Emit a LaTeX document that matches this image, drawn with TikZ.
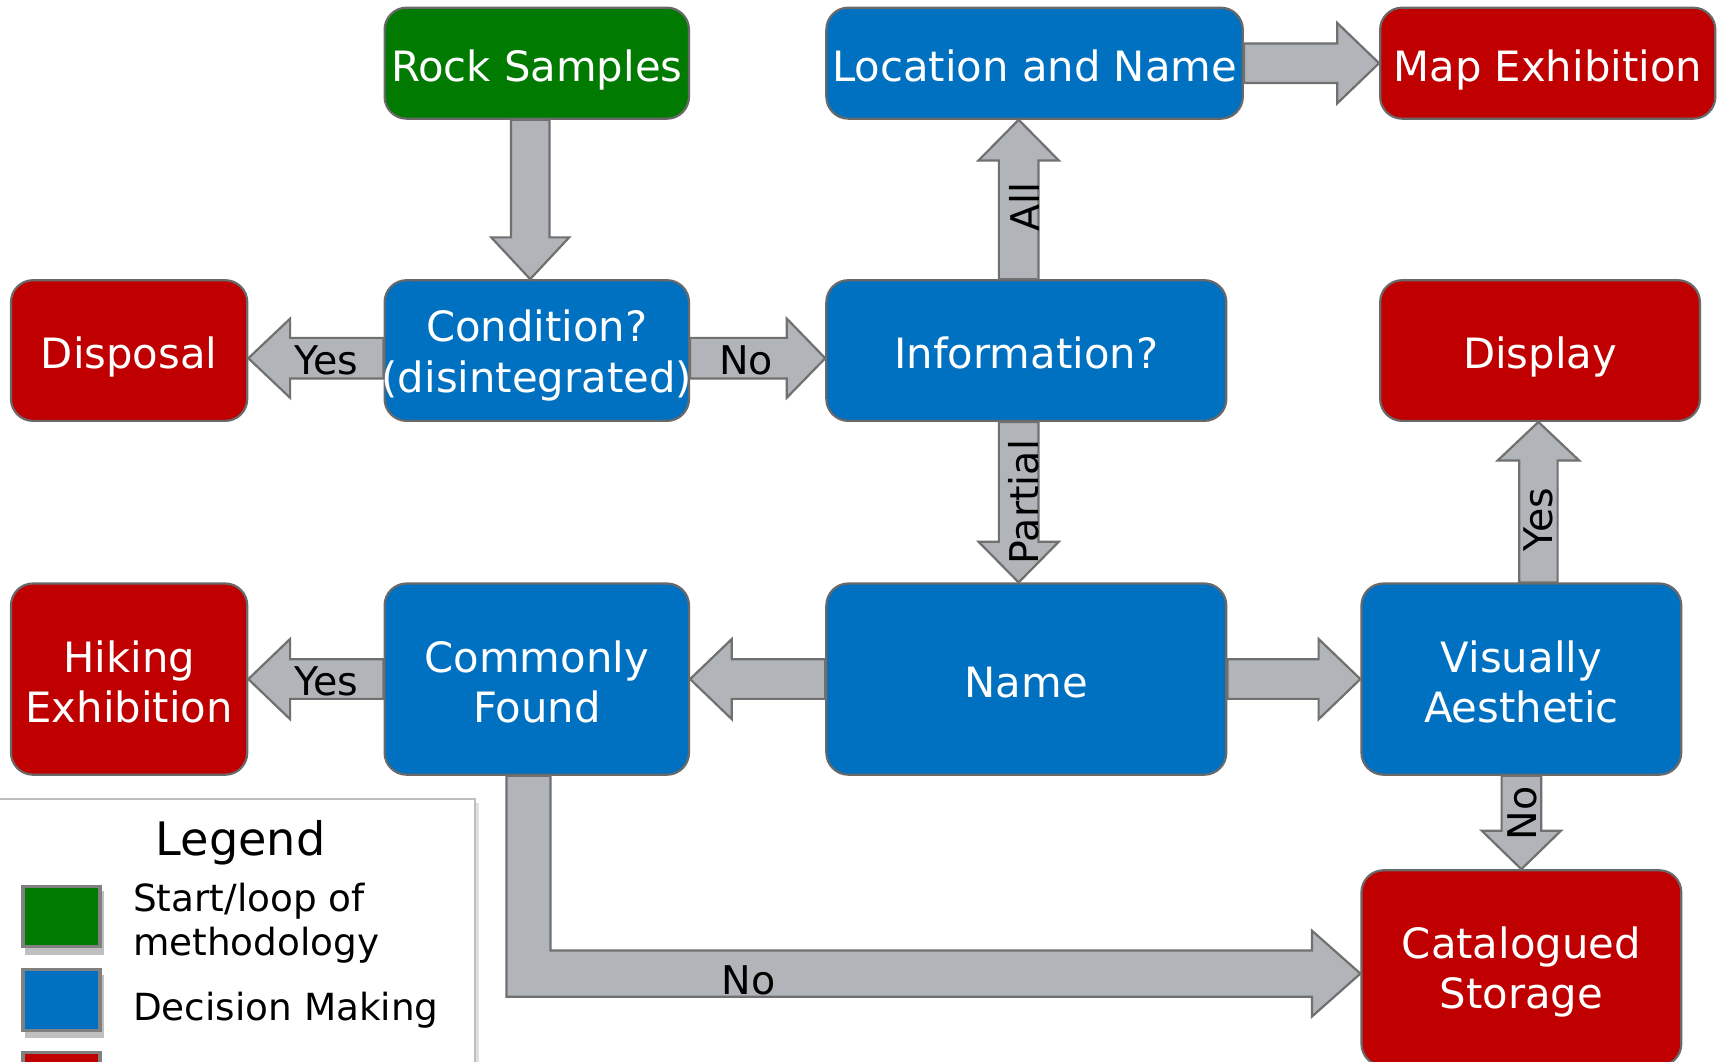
\documentclass[tikz,border=0pt]{standalone}
\usepackage{fontspec}
\setmainfont{DejaVu Sans}
\usetikzlibrary{calc}
\definecolor{cgreen}{RGB}{0,122,0}
\definecolor{cblue}{RGB}{0,112,192}
\definecolor{cred}{RGB}{192,0,0}
\definecolor{afill}{RGB}{177,181,185}
\definecolor{aline}{RGB}{112,112,112}
\definecolor{bline}{RGB}{105,105,105}
\definecolor{legline}{RGB}{190,190,190}
\tikzset{
  box/.style={draw=bline, line width=2pt, rounded corners=20pt, text=white, align=center,
    inner sep=0pt, font=\fontsize{38}{46}\selectfont},
  oneline/.style={text height=42pt, text depth=9pt},
  gbox/.style={box, fill=cgreen},
  bbox/.style={box, fill=cblue},
  rbox/.style={box, fill=cred},
  blockarr/.style={fill=afill, draw=aline, line width=2pt, line join=miter},
  elabel/.style={font=\fontsize{36}{40}\selectfont, text=black, inner sep=0pt},
  legsq/.style={draw=gray, line width=3pt, minimum width=70pt, minimum height=55pt, inner sep=0pt},
  legtext/.style={anchor=west, align=left, inner sep=0pt, font=\fontsize{34}{40}\selectfont},
}
\newcommand\twoline[2][7.5pt]{\raisebox{-#1}[\height][\depth]{\begin{tabular}{@{}c@{}}#2\end{tabular}}}
% block arrow: from, to, shaft half width, head half width, head length
\newcommand\blockarrow[5]{%
\draw[blockarr] let \p1=(#1), \p2=(#2), \n1={veclen(\x2-\x1,\y2-\y1)},
  \n2={(\x2-\x1)/\n1}, \n3={(\y2-\y1)/\n1} in
  ({\x1-\n3*#3},{\y1+\n2*#3}) -- ({\x2-\n2*#5-\n3*#3},{\y2-\n3*#5+\n2*#3})
  -- ({\x2-\n2*#5-\n3*#4},{\y2-\n3*#5+\n2*#4}) -- (\p2)
  -- ({\x2-\n2*#5+\n3*#4},{\y2-\n3*#5-\n2*#4}) -- ({\x2-\n2*#5+\n3*#3},{\y2-\n3*#5-\n2*#3})
  -- ({\x1+\n3*#3},{\y1-\n2*#3}) -- cycle;}
\begin{document}
\begin{tikzpicture}[x=1pt,y=1pt]
\useasboundingbox (0,0) rectangle (1568,-966);
\clip (0,0) rectangle (1568,-966);
\fill[white] (0,0) rectangle (1568,-966);

% nodes
\node[gbox, oneline, minimum width=277pt, minimum height=101pt] (rock) at (488.5,-57.5) {Rock Samples};
\node[bbox, oneline, minimum width=379pt, minimum height=101pt] (loc) at (941.5,-57.5) {Location and Name};
\node[rbox, oneline, minimum width=305pt, minimum height=101pt] (map) at (1408.5,-57.5) {Map Exhibition};
\node[rbox, oneline, minimum width=215pt, minimum height=128pt] (disp) at (117.5,-319) {Disposal};
\node[bbox, minimum width=277pt, minimum height=128pt] (cond) at (488.5,-319)
  {\twoline[6pt]{Condition?\\\makebox[240pt]{(disintegrated)}}};
\node[bbox, oneline, minimum width=364pt, minimum height=128pt] (info) at (934,-319) {Information?};
\node[rbox, oneline, minimum width=291pt, minimum height=128pt] (display) at (1401.5,-319) {Display};
\node[rbox, minimum width=215pt, minimum height=174pt] (hike) at (117.5,-618) {\twoline{Hiking\\Exhibition}};
\node[bbox, minimum width=277pt, minimum height=174pt] (cf) at (488.5,-618) {\twoline{Commonly\\Found}};
\node[bbox, oneline, minimum width=364pt, minimum height=174pt] (name) at (934,-618) {Name};
\node[bbox, minimum width=291pt, minimum height=174pt] (vis) at (1384.5,-618) {\twoline{Visually\\Aesthetic}};
\node[rbox, minimum width=291pt, minimum height=178pt] (cs) at (1384.5,-881) {\twoline[5pt]{Catalogued\\Storage}};

% arrows
\blockarrow{$(rock.south)+(-6,0)$}{$(cond.north)+(-6,0)$}{17.5}{35.5}{38}
\blockarrow{$(cond.east)+(0,-7)$}{$(info.west)+(0,-7)$}{18.5}{36}{35}
\blockarrow{$(cond.west)+(0,-7)$}{$(disp.east)+(0,-7)$}{18.5}{36}{38}
\blockarrow{$(info.north)+(-7,0)$}{$(loc.south)+(-14.5,0)$}{18}{36.5}{37}
\blockarrow{loc.east}{map.west}{18}{36.5}{38}
\blockarrow{$(info.south)+(-7,0)$}{$(name.north)+(-7,0)$}{18}{36.5}{37}
\blockarrow{name.west}{cf.east}{18}{36.5}{38}
\blockarrow{cf.west}{hike.east}{18}{36.5}{38}
\blockarrow{name.east}{vis.west}{18}{36.5}{38}
\blockarrow{$(vis.north)+(15.5,0)$}{$(display.south)+(-1.5,0)$}{17.5}{37}{35}
\blockarrow{vis.south}{cs.north}{18}{36}{35}
\draw[blockarr] let \p1=($(cf.south)+(-7.5,0)$), \p2=($(cs.west)+(0,-5)$) in
  ({\x1-20},\y1) -- ({\x1-20},{\y2-21}) -- ({\x2-44},{\y2-21}) -- ({\x2-44},{\y2-39})
  -- (\p2) -- ({\x2-44},{\y2+39}) -- ({\x2-44},{\y2+21}) -- ({\x1+20},{\y2+21})
  -- ({\x1+20},\y1) -- cycle;

% edge labels
\node[elabel] (l1) at (297,-328) {Yes};
\node[elabel] (l2) at (679,-328) {No};
\node[elabel, rotate=90] (l3) at (932,-188) {All};
\node[elabel, rotate=90] (l4) at (932,-457) {Partial};
\node[elabel, rotate=90] (l5) at (1400,-473) {Yes};
\node[elabel, rotate=90] (l6) at (1385,-740) {No};
\node[elabel] (l7) at (297,-620) {Yes};
\node[elabel] (l8) at (681,-892) {No};

% legend
\fill[gray!25] (2,-731) rectangle (436,-1010);
\draw[legline, line width=2pt, fill=white] (-2,-727) rectangle (432,-1010);
\node[inner sep=0pt, font=\fontsize{42}{48}\selectfont] (legt) at (219,-767) {Legend};
\fill[gray!50] (23,-811) rectangle (95,-869);
\node[legsq, fill=cgreen] (lg1) at (56,-834) {};
\fill[gray!50] (23,-887) rectangle (95,-945);
\node[legsq, fill=cblue] (lg2) at (56,-910) {};
\node[legsq, fill=cred] (lg3) at (56,-985) {};
\node[legtext] (lt1) at (121,-840) {Start/loop of\\methodology};
\node[legtext] (lt2) at (121,-919) {Decision Making};
\end{tikzpicture}
\end{document}
